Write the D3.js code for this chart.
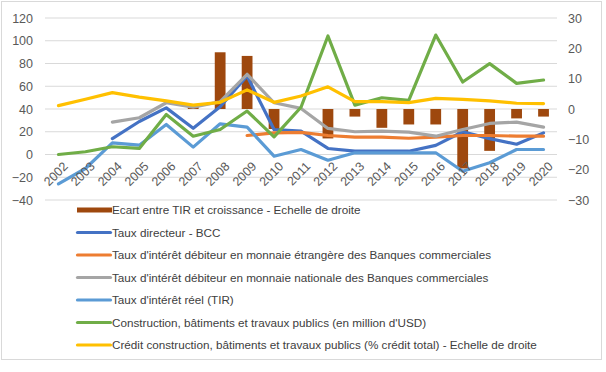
<!DOCTYPE html>
<html>
<head>
<meta charset="utf-8">
<script src="https://cdn.jsdelivr.net/npm/d3@7"></script>
<style>
  body { margin: 0; background: #fff; }
</style>
</head>
<body>
<div id="graph"></div>
<script>
const fontFam = "'Liberation Sans', 'DejaVu Sans', sans-serif";
const fullWidth = 606;
const fullHeight = 372;
const margin = { top: 18, right: 49, left: 45, bottom: 172 };
const width = fullWidth - margin.left - margin.right;
const height = 200 - margin.top;

// data
const years = ["2002","2003","2004","2005","2006","2007","2008","2009","2010","2011",
  "2012","2013","2014","2015","2016","2017","2018","2019","2020"];
const ecart = [null, null, null, null, null, 1.5, 18.7, 17.5, -6.6, null,
  -9.7, -2.5, -6.2, -5.1, -5.1, -19.6, -13.8, -3.1, -2.5];
const tauxDirecteur = [null, null, 14, 29, 41, 23, 42, 69, 22, 20.5,
  5.3, 2.9, 2.9, 2.9, 8, 20, 14, 9, 19];
const tauxEtranger = [null, null, null, null, null, null, null, 16.7, 19, 19.5,
  16.7, 15.3, 15.3, 14.3, 15.3, 16.7, 16.7, 16.1, 16.1];
const tauxNational = [null, null, 28.5, 32.3, 45.5, 41.7, 46.4, 70.5, 45.5, 40.5,
  22.9, 20, 20.5, 19.7, 16.1, 22, 27.3, 28.5, 24.1];
const tauxReel = [-25.8, -12.3, 10.3, 8.2, 26.4, 6.5, 27, 24.1, -1.5, 4.4,
  -5, 1.5, 1.5, 1.5, 1.5, -14.7, -7.3, 4.4, 4.4];
const construction = [0, 2.4, 6.8, 5.3, 35.2, 16.1, 22, 38.2, 15.5, 41.5,
  104.2, 43.4, 49.9, 47.6, 105, 63.7, 79.9, 62.5, 65.5];
const credit = [1.1, 3.2, 5.4, 3.9, 2.7, 1.3, 2.2, 6.3, 2.2, 4.3,
  7.3, 2.4, 2.4, 2.1, 3.5, 3.2, 2.7, 1.9, 1.8];

const leftTicks = [-40, -20, 0, 20, 40, 60, 80, 100, 120];
const rightTicks = [-30, -20, -10, 0, 10, 20, 30];

const lineSeries = [
  { name: "Taux directeur - BCC", values: tauxDirecteur, color: "#4472C4" },
  { name: "Taux d'intérêt débiteur en monnaie étrangère des Banques commerciales", values: tauxEtranger, color: "#ED7D31" },
  { name: "Taux d'intérêt débiteur en monnaie nationale des Banques commerciales", values: tauxNational, color: "#A5A5A5" },
  { name: "Taux d'intérêt réel (TIR)", values: tauxReel, color: "#5B9BD5" },
  { name: "Construction, bâtiments et travaux publics (en million d'USD)", values: construction, color: "#70AD47" },
  { name: "Crédit construction, bâtiments et travaux publics (% crédit total) - Echelle de droite", values: credit, color: "#FFC000", right: true }
];
const barName = "Ecart entre TIR et croissance - Echelle de droite";
const barColor = "#9E480E";

var svgRoot = d3.select("#graph")
  .append("svg")
  .attr("width", fullWidth)
  .attr("height", fullHeight);

// chart frame
svgRoot.append("rect")
  .attr("x", 1.5).attr("y", 1.5)
  .attr("width", 600).attr("height", 358)
  .attr("fill", "#fff")
  .attr("stroke", "#d9d9d9");

var svg = svgRoot.append("g")
  .attr("transform", "translate(" + margin.left + "," + margin.top + ")");

var x = d3.scaleBand().domain(years).range([0, width]);
var yLeft = d3.scaleLinear().domain([-40, 120]).range([height, 0]);
var yRight = d3.scaleLinear().domain([-30, 30]).range([height, 0]);

// grid
svg.append("g")
  .selectAll("line")
  .data(leftTicks)
  .enter().append("line")
  .attr("x1", 0).attr("x2", width)
  .attr("y1", d => yLeft(d)).attr("y2", d => yLeft(d))
  .attr("stroke", "#d9d9d9")
  .attr("stroke-width", 1);

// left axis
var leftAxis = svg.append("g")
  .call(d3.axisLeft(yLeft).tickValues(leftTicks).tickSize(0).tickPadding(12));
leftAxis.select(".domain").remove();
leftAxis.selectAll("text")
  .style("font-family", fontFam).style("font-size", "12.5px").attr("fill", "#595959");

// right axis
var rightAxis = svg.append("g")
  .attr("transform", "translate(" + width + ",0)")
  .call(d3.axisRight(yRight).tickValues(rightTicks).tickSize(0).tickPadding(11));
rightAxis.select(".domain").remove();
rightAxis.selectAll("text")
  .style("font-family", fontFam).style("font-size", "12.5px").attr("fill", "#595959");

// bars
var barW = x.bandwidth() / 2.5;
svg.append("g").selectAll("rect")
  .data(years.map((y, i) => ({ year: y, v: ecart[i] })).filter(d => d.v !== null))
  .enter().append("rect")
  .attr("x", d => x(d.year) + (x.bandwidth() - barW) / 2)
  .attr("width", barW)
  .attr("y", d => yRight(Math.max(0, d.v)))
  .attr("height", d => Math.abs(yRight(d.v) - yRight(0)))
  .attr("fill", barColor);

// lines
lineSeries.forEach(s => {
  var yS = s.right ? yRight : yLeft;
  var line = d3.line()
    .defined(d => d !== null)
    .x((d, i) => x(years[i]) + x.bandwidth() / 2)
    .y(d => yS(d));
  svg.append("path")
    .datum(s.values)
    .attr("fill", "none")
    .attr("stroke", s.color)
    .attr("stroke-width", 3.2)
    .attr("stroke-linejoin", "round")
    .attr("stroke-linecap", "round")
    .attr("d", line);
});

// x labels
svg.append("g").selectAll("text")
  .data(years)
  .enter().append("text")
  .attr("transform", d => "translate(" + (x(d) + x.bandwidth() / 2 + 4) + "," + (yLeft(-40) - 39) + ") rotate(-45)")
  .attr("text-anchor", "end")
  .attr("dy", "0.7em")
  .style("font-family", fontFam)
  .style("font-size", "12.5px")
  .style("fill", "#595959")
  .text(d => d);

// legend
var legendItems = [{ name: barName, color: barColor, bar: true }].concat(lineSeries);
var legend = svgRoot.append("g").attr("transform", "translate(76,210)");
var rows = legend.selectAll("g")
  .data(legendItems)
  .enter().append("g")
  .attr("transform", (d, i) => "translate(0," + (i * 22.5) + ")");
rows.append("line")
  .attr("x1", d => d.bar ? 1 : 1.5).attr("x2", d => d.bar ? 36 : 34.5)
  .attr("y1", 0).attr("y2", 0)
  .attr("stroke", d => d.color)
  .attr("stroke-width", d => d.bar ? 5 : 3.2)
  .attr("stroke-linecap", d => d.bar ? "butt" : "round");
rows.append("text")
  .attr("x", 36)
  .attr("dy", "0.35em")
  .style("font-family", fontFam)
  .style("font-size", "11.7px")
  .style("fill", "#404040")
  .text(d => d.name);
</script>
</body>
</html>
